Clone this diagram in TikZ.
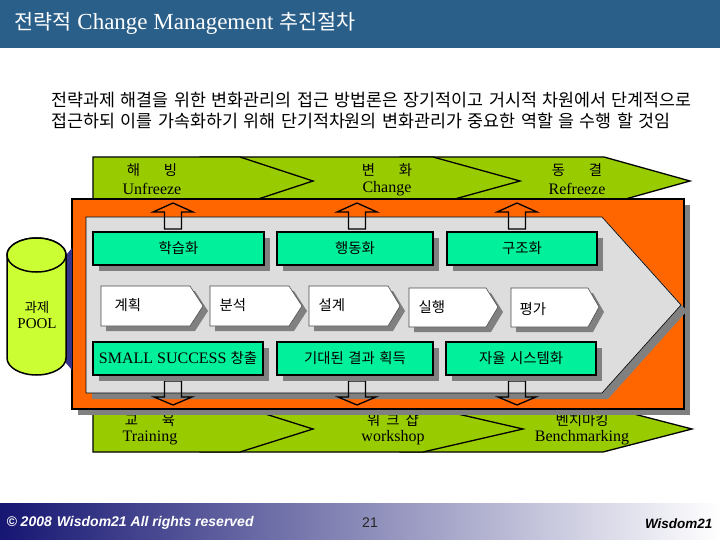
\documentclass[tikz,border=0pt]{standalone}
\usepackage{fontspec}
\setmainfont{Liberation Serif}
\newfontfamily\kr[Scale=0.9,WordSpace=1.4]{Noto Sans CJK KR}
\newfontfamily\footfont{Liberation Sans}
\usepackage{xcolor}
\usetikzlibrary{shadows}

\definecolor{titleblue}{RGB}{42,95,138}
\definecolor{bandgreen}{RGB}{153,204,0}
\definecolor{panelorange}{RGB}{255,102,0}
\definecolor{innergray}{RGB}{221,221,221}
\definecolor{shadowgray}{RGB}{128,128,128}
\definecolor{boxgreen}{RGB}{0,240,155}
\definecolor{poolgreen}{RGB}{204,255,51}
\definecolor{stripnavy}{RGB}{51,51,140}
\definecolor{footnavy}{RGB}{22,22,115}
\definecolor{footmid}{RGB}{172,172,200}

\begin{document}
\begin{tikzpicture}[
    x=1pt, y=-1pt,
    chevron/.style={draw=black, line width=1.3pt, fill=bandgreen},
    bandtext/.style={font=\fontsize{16}{18}\selectfont},
    panel/.style={draw=black, line width=1.2pt, fill=panelorange,
        drop shadow={shadow xshift=6pt, shadow yshift=-6pt, fill=shadowgray, opacity=1}},
    inner/.style={draw=black, line width=0.6pt, fill=innergray,
        drop shadow={shadow xshift=6pt, shadow yshift=-6pt, fill=shadowgray, opacity=1}},
    stagebox/.style={draw=black, line width=1.5pt, fill=boxgreen, minimum height=33pt,
        inner sep=0pt, font=\fontsize{16}{18}\selectfont,
        drop shadow={shadow xshift=6pt, shadow yshift=-6pt, fill=shadowgray, opacity=1}},
    tasksign/.style={draw=black!70, line width=0.6pt, fill=white,
        drop shadow={shadow xshift=5pt, shadow yshift=-5pt, fill=shadowgray, opacity=1}},
    tasktext/.style={anchor=west, font=\fontsize{16}{18}\selectfont},
    blockarrow/.style={draw=black, line width=1.3pt, line join=miter}
]
\useasboundingbox (0,0) rectangle (720,540);

% Title
\fill[titleblue] (0,0) rectangle (720,48);
\node[anchor=west, text=white, font=\fontsize{23}{26}\selectfont] (title) at (11,23)
    {{\kr 전략적} Change Management {\kr 추진절차}};

% Summary
\node[anchor=west, font=\fontsize{19.3}{22}\selectfont] (sum1) at (48,100)
    {\kr 전략과제 해결을 위한 변화관리의 접근 방법론은 장기적이고 거시적 차원에서 단계적으로};
\node[anchor=west, font=\fontsize{19.3}{22}\selectfont] (sum2) at (48,121)
    {\kr 접근하되 이를 가속화하기 위해 단기적차원의 변화관리가 중요한 역할 을 수행 할 것임};

% Upper band
\draw[chevron] (400,157) -- (604,157) -- (690,181) -- (604,205) -- (400,205) -- cycle;
\draw[chevron] (200,157) -- (433,157) -- (520,181) -- (433,205) -- (200,205) -- cycle;
\draw[chevron] (93,157) -- (240,157) -- (313,181) -- (240,205) -- (93,205) -- cycle;
\node[bandtext] (unfreezeKr) at (152,170) {\kr 해\hspace{24pt}빙};
\node[bandtext] (unfreeze) at (152,189) {Unfreeze};
\node[bandtext] (changeKr) at (387,170) {\kr 변\hspace{24pt}화};
\node[bandtext] (change) at (387,189) {Change};
\node[bandtext] (refreezeKr) at (577,170) {\kr 동\hspace{24pt}결};
\node[bandtext] (refreeze) at (577,189) {Refreeze};

% Lower band
\draw[chevron] (400,406) -- (603,406) -- (692,429) -- (603,452) -- (400,452) -- cycle;
\draw[chevron] (200,406) -- (423,406) -- (523,429) -- (423,452) -- (200,452) -- cycle;
\draw[chevron] (93,406) -- (240,406) -- (313,429) -- (240,452) -- (93,452) -- cycle;
\node[bandtext] (trainingKr) at (150,420) {\kr 교\hspace{24pt}육};
\node[bandtext] (training) at (150,438) {Training};
\node[bandtext] (workshopKr) at (393,420) {\kr 워\hspace{6pt}크\hspace{6pt}샵};
\node[bandtext] (workshop) at (393,438) {workshop};
\node[bandtext] (benchKr) at (582,420) {\kr 벤치마킹};
\node[bandtext] (bench) at (582,438) {Benchmarking};

% Orange panel and gray arrow
\draw[panel] (72,199) rectangle (684,409);
\draw[inner] (86,217) -- (602,217) -- (681,305) -- (602,393) -- (86,393) -- cycle;

% Up arrows
\draw[blockarrow] (164.5,229) -- (164.5,212) -- (153,212) -- (173,203) -- (193,212) -- (181.5,212) -- (181.5,229) -- cycle;
\draw[blockarrow] (348.5,229) -- (348.5,212) -- (337,212) -- (357,203) -- (377,212) -- (365.5,212) -- (365.5,229) -- cycle;
\draw[blockarrow] (508.5,229) -- (508.5,212) -- (497,212) -- (517,203) -- (537,212) -- (525.5,212) -- (525.5,229) -- cycle;

% Down arrows
\draw[blockarrow] (164.5,381) -- (164.5,397) -- (154,397) -- (173,405) -- (192,397) -- (181.5,397) -- (181.5,381) -- cycle;
\draw[blockarrow] (348.5,381) -- (348.5,397) -- (338,397) -- (357,405) -- (376,397) -- (365.5,397) -- (365.5,381) -- cycle;
\draw[blockarrow] (508.5,381) -- (508.5,397) -- (498,397) -- (517,405) -- (536,397) -- (525.5,397) -- (525.5,381) -- cycle;

% Stage boxes
\node[stagebox, minimum width=171pt] (learn) at (178.5,248.5) {\kr 학습화};
\node[stagebox, minimum width=156pt] (behave) at (355,248.5) {\kr 행동화};
\node[stagebox, minimum width=150pt] (struct) at (522,248.5) {\kr 구조화};
\node[stagebox, minimum width=170pt] (success) at (178,358.5) {SMALL SUCCESS {\kr 창출}};
\node[stagebox, minimum width=156pt] (result) at (355,358.5) {\kr 기대된 결과 획득};
\node[stagebox, minimum width=150pt] (system) at (521,358.5) {\kr 자율 시스템화};

% Task steps
\draw[tasksign] (101,286) -- (190,286) -- (203,306) -- (190,326) -- (101,326) -- cycle;
\draw[tasksign] (210,286) -- (289,286) -- (302,306) -- (289,326) -- (210,326) -- cycle;
\draw[tasksign] (309,286) -- (388,286) -- (400,306) -- (388,326) -- (309,326) -- cycle;
\draw[tasksign] (409,288) -- (486,288) -- (498,307) -- (486,327) -- (409,327) -- cycle;
\draw[tasksign] (511,288) -- (588,288) -- (599,307) -- (588,327) -- (511,327) -- cycle;
\node[tasktext] (plan) at (111,305) {\kr 계획};
\node[tasktext] (analysis) at (216,305) {\kr 분석};
\node[tasktext] (design) at (315,305) {\kr 설계};
\node[tasktext] (execute) at (415,307) {\kr 실행};
\node[tasktext] (evaluate) at (516,309) {\kr 평가};

% Task pool
\fill[stripnavy] (60,262) -- (72,248) -- (72,370) -- (60,356) -- cycle;
\draw[line width=1.5pt, fill=poolgreen] (7,255) -- (7,358)
    arc[start angle=180, end angle=360, x radius=29.5pt, y radius=17pt]
    -- (66,255) arc[start angle=0, end angle=180, x radius=29.5pt, y radius=17pt] -- cycle;
\draw[line width=1.5pt, fill=poolgreen] (36.5,255) ellipse[x radius=29.5pt, y radius=17pt];
\node[align=center, font=\fontsize{15}{16}\selectfont] (pool) at (37,315) {{\kr 과제}\\POOL};

% Footer
\shade[left color=footnavy, middle color=footmid, right color=white] (0,503) rectangle (720,540);
\node[anchor=west, text=white, font=\footfont\fontsize{14}{16}\selectfont\bfseries\itshape] (copyright) at (3,523)
    {© 2008\hspace{5pt}Wisdom21 All rights reserved};
\node[text=black!85, font=\footfont\fontsize{14}{16}\selectfont] (page) at (370,523) {21};
\node[anchor=east, font=\footfont\fontsize{13.5}{16}\selectfont\bfseries\itshape] (brand) at (716,524) {Wisdom21};

\end{tikzpicture}
\end{document}
